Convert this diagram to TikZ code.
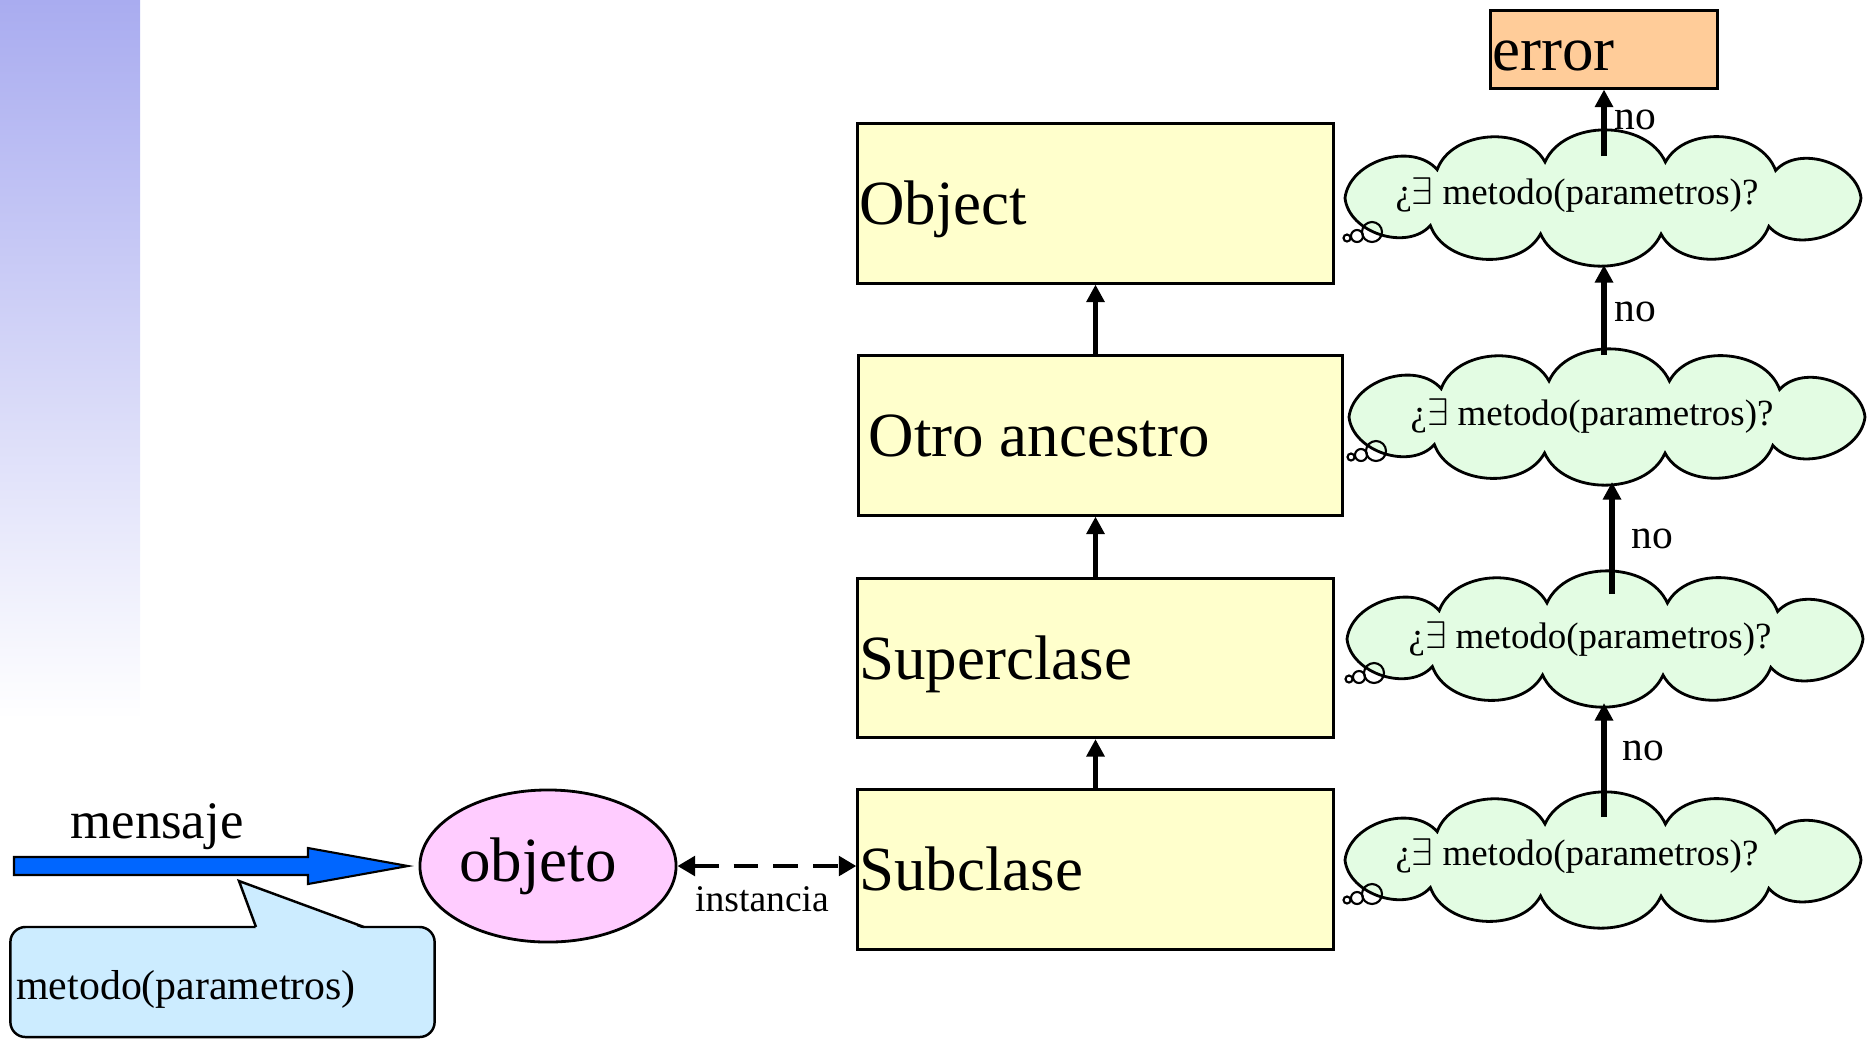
\documentclass[tikz,border=0pt]{standalone}
\usepackage{fontspec}
\setmainfont{Liberation Serif}
\usetikzlibrary{arrows.meta,shapes.geometric,calc}
\definecolor{boxyellow}{HTML}{FFFFCC}
\definecolor{errorange}{HTML}{FFCC99}
\definecolor{objpink}{HTML}{FFCCFF}
\definecolor{notesky}{HTML}{CCECFF}
\definecolor{thoughtgreen}{HTML}{E3FCE3}
\definecolor{msgblue}{HTML}{0066FF}
\definecolor{barblue}{RGB}{169,172,240}
\newcommand{\bigtxt}{\fontsize{17.9}{20}\selectfont}
\newcommand{\question}[1]{¿$\exists$ metodo(parametros)?\kern#1}
\begin{document}
\begin{tikzpicture}[x=0.01cm,y=-0.01cm,
  classbox/.style={draw, fill=boxyellow, line width=0.85pt, minimum height=15.9mm,
    align=flush left, inner ysep=0pt, text height=12.2pt, text depth=0pt, font=\bigtxt},
  qtext/.style={inner sep=0pt, font=\fontsize{10.5}{12}\selectfont},
  puff/.style={bend left=66},
  bubble/.style={draw, line width=0.6pt},
  uparrow/.style={-{Triangle[width=5pt,length=5pt]}, line width=1.6pt},
  nolabel/.style={font=\fontsize{11.8}{13}\selectfont, inner sep=1pt, anchor=west},
  thoughtcloud/.pic={
    \path[draw, fill=thoughtgreen, line width=0.8pt]
      (0:258 and 37) to[puff] (50:258 and 37) to[puff] (77:258 and 37)
      to[puff] (104:258 and 37) to[puff] (132:258 and 37) to[puff] (180:258 and 37)
      to[puff] (230:258 and 37) to[puff] (257:258 and 37) to[puff] (284:258 and 37)
      to[puff] (312:258 and 37) to[puff] (360:258 and 37) -- cycle;
    \draw[bubble] (-231,34) circle[radius=10];
    \draw[bubble] (-246,38) circle[radius=6];
    \draw[bubble] (-256,40) circle[radius=3.5];
  }
]
\useasboundingbox (0,0) rectangle (1869,1038);

% side band
\shade[top color=barblue, bottom color=white] (0,0) rectangle (140,720);

% class hierarchy
\node[classbox, text width=47.2mm, inner xsep=0.15mm] (obj) at (1095.5,203.5) {Object};
\node[classbox, text width=46.3mm, inner xsep=1mm] (anc) at (1100.5,435.5) {Otro ancestro};
\node[classbox, text width=47.2mm, inner xsep=0.15mm] (sup) at (1095.5,658) {Superclase};
\node[classbox, text width=47.2mm, inner xsep=0.15mm] (sub) at (1095.5,869.5) {Subclase};
\node[draw, fill=errorange, line width=0.85pt, minimum height=7.7mm, text width=22.3mm,
  inner xsep=0.15mm, inner ysep=0pt, text height=12.2pt, text depth=0pt, align=flush left,
  font=\bigtxt] (err) at (1604,49.5) {error};

\draw[uparrow] (sub.north) -- (sup.south);
\draw[uparrow] (sup.north) -- (sup.north |- anc.south);
\draw[uparrow] (obj.south |- anc.north) -- (obj.south);

% the object receiving the message
\node[ellipse, draw, fill=objpink, line width=0.8pt, minimum width=25.6mm,
  minimum height=15.2mm, inner sep=0pt, font=\bigtxt] (ob) at (548,866) {objeto\kern2mm};

\draw[{Triangle[width=5.5pt,length=5pt]}-{Triangle[width=5.5pt,length=5pt]},
  line width=1.4pt, dash pattern=on 7pt off 4.3pt] (ob.east) -- (ob.east -| sub.west);
\node[anchor=base, font=\fontsize{10.7}{12}\selectfont] (inst) at (762,911) {instancia};

% message arrow
\draw[fill=msgblue, line width=0.6pt] (14,857) -- (308,857) -- (308,848) -- (408,866)
  -- (308,884) -- (308,875) -- (14,875) -- cycle;
\node[anchor=base, font=\fontsize{15}{17}\selectfont] (msg) at (157,838) {mensaje};

% note with pointer
\node[draw, fill=notesky, rounded corners=4.3pt, line width=0.7pt, minimum width=42.4mm,
  minimum height=11mm, text width=41.2mm, inner xsep=0.6mm, align=flush left,
  text height=10pt, text depth=0.2pt,
  font=\fontsize{11.9}{14}\selectfont] (note) at (222.5,982) {metodo(parametros)};
\fill[notesky] (256,929) -- (239,881) -- (364,929) -- cycle;
\draw[line width=0.7pt] (256,927) -- (239,881) -- (364,927);

% method lookup clouds
\pic at (1603,198) {thoughtcloud};
\pic at (1607,417) {thoughtcloud};
\pic at (1605,639) {thoughtcloud};
\pic at (1603,860) {thoughtcloud};
\node[qtext] (q1) at (1603,195) {\question{5.2mm}};
\node[qtext] (q2) at (1607,416) {\question{3mm}};
\node[qtext] (q3) at (1605,639) {\question{3mm}};
\node[qtext] (q4) at (1603,856) {\question{5.2mm}};

% lookup steps: start inside a cloud, end at the bottom of the next one
\coordinate (s4) at (1604,817);
\coordinate (s3) at (1612,594);
\coordinate (s2) at (1604,355);
\coordinate (s1) at (1604,156);
\coordinate (b3) at (1604,703);
\coordinate (b2) at (1612,482);
\coordinate (b1) at (1604,265);
\draw[uparrow] (s4) -- (b3) node[nolabel, pos=0.58, xshift=1.2mm] {no};
\draw[uparrow] (s3) -- (b2) node[nolabel, pos=0.49, xshift=1.3mm] {no};
\draw[uparrow] (s2) -- (b1) node[nolabel, pos=0.48, xshift=0.4mm] {no};
\draw[uparrow] (s1) -- (err.south) node[nolabel, pos=0.55, xshift=0.4mm] {no};
\end{tikzpicture}
\end{document}
